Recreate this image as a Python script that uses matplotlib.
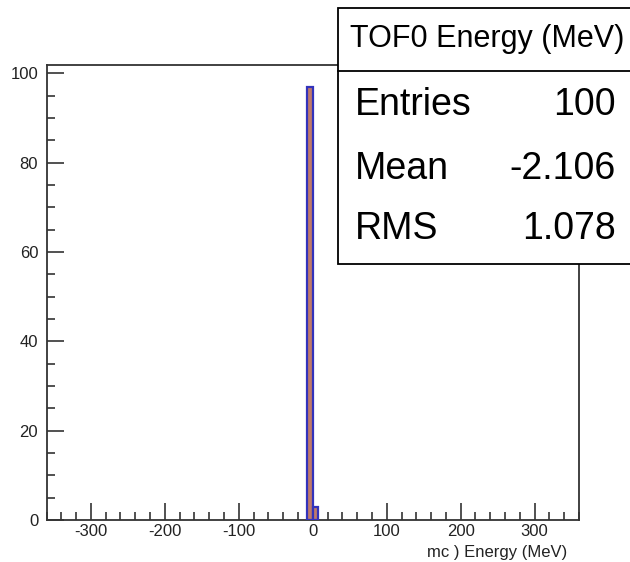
import matplotlib
matplotlib.use("Agg")
import matplotlib.pyplot as plt
from matplotlib.patches import Rectangle
from matplotlib.ticker import MultipleLocator

plt.rcParams['font.family'] = ['Liberation Sans', 'DejaVu Sans']
plt.rcParams['axes.unicode_minus'] = False

# Data
bin_left = [-7.2, 0.0]
bin_width = 7.2
counts = [97, 3]
x_range = (-360, 360)
y_max = 101.85
x_label = "mc ) Energy (MeV)"
stats_title = "TOF0 Energy (MeV)"
stats_names = ["Entries", "Mean", "RMS"]
stats_values = ["100", "-2.106", "1.078"]

W, H = 630, 562
fig = plt.figure(figsize=(W / 100, H / 100), dpi=100)
ax = fig.add_axes([46.5 / W, 1 - 520 / H, 532.5 / W, 455 / H])

ax.bar(bin_left, counts, width=bin_width, align='edge',
       color='#bf7a6a', edgecolor='#3333bb', linewidth=1.6, zorder=3)

ax.set_xlim(*x_range)
ax.set_ylim(0, y_max)
ax.xaxis.set_major_locator(MultipleLocator(100))
ax.xaxis.set_minor_locator(MultipleLocator(20))
ax.yaxis.set_major_locator(MultipleLocator(20))
ax.yaxis.set_minor_locator(MultipleLocator(5))
ax.tick_params(which='both', direction='in', top=False, right=False,
               color='#333333', width=1.2)
ax.tick_params(which='major', length=12, labelsize=12, labelcolor='#222222')
ax.tick_params(axis='x', which='major', pad=3)
ax.tick_params(axis='y', which='major', pad=6)
ax.tick_params(which='minor', length=6)
for s in ax.spines.values():
    s.set_color('#333333')
    s.set_linewidth(1.3)

fig.text(567 / W, 1 - 553 / H, x_label, ha='right', va='center', fontsize=12,
         color='#222222')

# Stats box
def fx(px):
    return px / W

def fy(py):
    return 1 - py / H

box = Rectangle((fx(337.5), fy(263.5)), fx(640) - fx(337.5), fy(7.5) - fy(263.5),
                transform=fig.transFigure, facecolor='white', edgecolor='black',
                linewidth=1.3, zorder=10)
fig.patches.append(box)
fig.add_artist(plt.Line2D([fx(337.5), fx(640)], [fy(70.7), fy(70.7)],
                          transform=fig.transFigure, color='black', linewidth=1.3, zorder=11))
fig.text(fx(487), fy(39), stats_title, ha='center', va='center', fontsize=22, zorder=12)
row_y = [105, 169, 229]
for name, val, ry in zip(stats_names, stats_values, row_y):
    fig.text(fx(355), fy(ry), name, ha='left', va='center', fontsize=27, zorder=12)
    fig.text(fx(616), fy(ry), val, ha='right', va='center', fontsize=27, zorder=12)

fig.savefig("out.png", dpi=100)
